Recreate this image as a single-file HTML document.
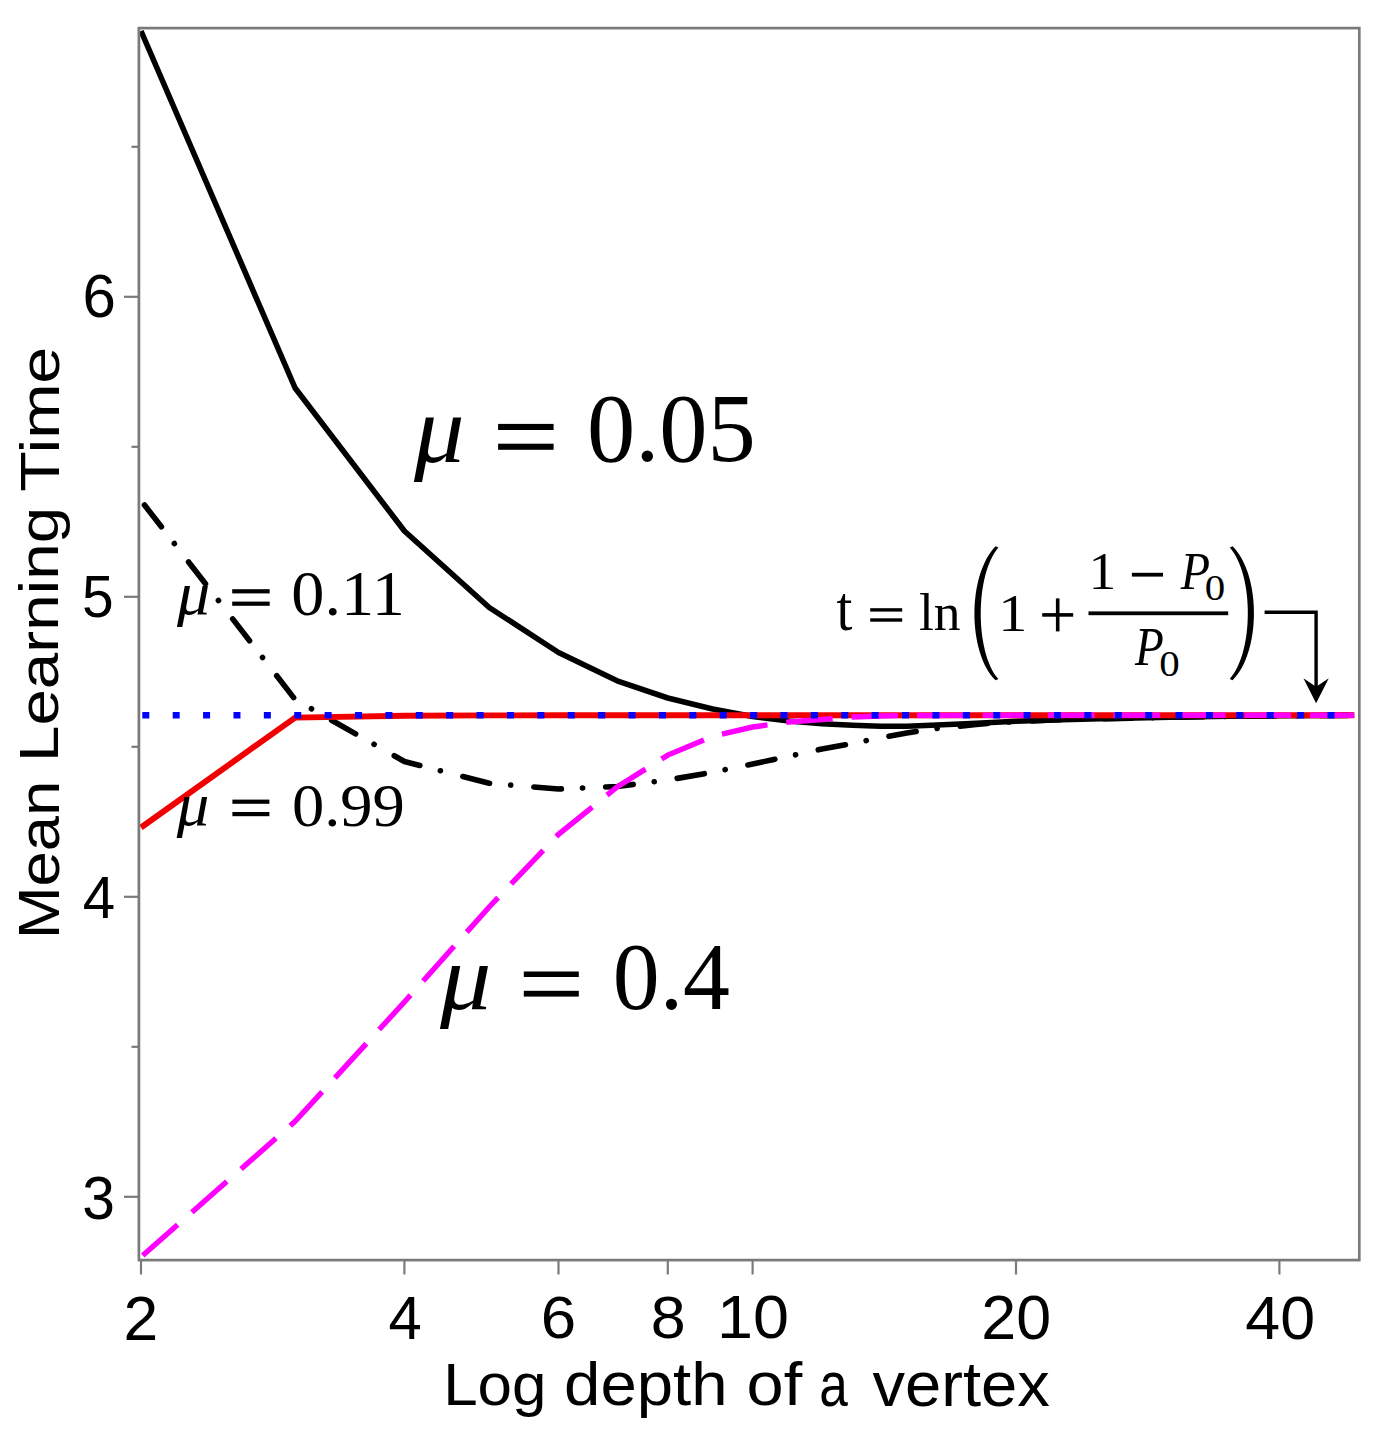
<!DOCTYPE html>
<html><head><meta charset="utf-8"><style>
html,body{margin:0;padding:0;background:#fff;width:1377px;height:1433px;overflow:hidden}
svg{display:block}
</style></head><body>
<svg width="1377" height="1433" viewBox="0 0 1377 1433">
<rect width="1377" height="1433" fill="#fff"/>
<polyline points="141.0,31.0 295.1,388.0 404.4,531.0 489.2,607.5 558.5,652.5 617.1,680.8 667.8,698.0 712.6,709.0 752.6,716.5 788.8,721.0 821.9,723.8 852.3,725.3 880.5,726.2 906.7,726.2 931.2,725.2 954.2,724.2 976.0,723.2 996.5,722.2 1016.0,721.3 1052.2,720.0 1100.8,718.8 1170.1,717.3 1228.7,716.3 1279.4,715.8 1324.2,715.5 1354.2,715.3" fill="none" stroke="#000" stroke-width="5.6" stroke-linejoin="round"/>
<polyline points="141.0,500.5 295.1,699.5 404.4,761.5 489.2,783.3 558.5,789.0 617.1,786.5 667.8,780.0 712.6,772.2 752.6,764.0 788.8,756.3 821.9,749.0 852.3,743.5 880.5,737.7 906.7,733.0 931.2,729.0 954.2,726.8 976.0,724.5 996.5,722.8 1016.0,721.5 1052.2,720.0 1100.8,718.8 1170.1,717.3 1228.7,716.3 1279.4,715.8 1324.2,715.5 1354.2,715.3" fill="none" stroke="#000" stroke-width="5.6" stroke-dasharray="27.6 21.15 0.1 23.15" stroke-dashoffset="-5.7" stroke-linecap="round" stroke-linejoin="round"/>
<polyline points="141.0,827.5 295.1,717.6 404.4,715.8 489.2,715.4 558.5,715.3 1354.2,715.3" fill="none" stroke="#f00000" stroke-width="5.9"/>
<polyline points="141.0,1257.0 295.1,1121.4 404.4,1002.0 489.2,907.0 558.5,834.3 617.1,787.0 667.8,755.1 712.6,736.3 752.6,727.0 788.8,722.0 821.9,719.5 852.3,717.0 880.5,716.0 906.7,715.5 1016.0,715.3 1354.2,715.3" fill="none" stroke="#ff00ff" stroke-width="5.4" stroke-dasharray="46.5 19" stroke-dashoffset="-2.3"/>
<line x1="142.3" y1="715.3" x2="1355" y2="715.3" stroke="#0000ff" stroke-width="6.6" stroke-dasharray="7 23.39"/>
<rect x="138.9" y="28.1" width="1220.4" height="1232" fill="none" stroke="#7a7a7a" stroke-width="2.7"/>
<line x1="124" y1="1196.8" x2="139" y2="1196.8" stroke="#7a7a7a" stroke-width="2.2"/>
<line x1="124" y1="896.8" x2="139" y2="896.8" stroke="#7a7a7a" stroke-width="2.2"/>
<line x1="124" y1="596.8" x2="139" y2="596.8" stroke="#7a7a7a" stroke-width="2.2"/>
<line x1="124" y1="296.8" x2="139" y2="296.8" stroke="#7a7a7a" stroke-width="2.2"/>
<line x1="131.5" y1="1046.8" x2="139" y2="1046.8" stroke="#7a7a7a" stroke-width="2.2"/>
<line x1="131.5" y1="746.8" x2="139" y2="746.8" stroke="#7a7a7a" stroke-width="2.2"/>
<line x1="131.5" y1="446.8" x2="139" y2="446.8" stroke="#7a7a7a" stroke-width="2.2"/>
<line x1="131.5" y1="146.8" x2="139" y2="146.8" stroke="#7a7a7a" stroke-width="2.2"/>
<line x1="141.0" y1="1260" x2="141.0" y2="1274.5" stroke="#7a7a7a" stroke-width="2.2"/>
<line x1="404.4" y1="1260" x2="404.4" y2="1274.5" stroke="#7a7a7a" stroke-width="2.2"/>
<line x1="558.5" y1="1260" x2="558.5" y2="1274.5" stroke="#7a7a7a" stroke-width="2.2"/>
<line x1="667.8" y1="1260" x2="667.8" y2="1274.5" stroke="#7a7a7a" stroke-width="2.2"/>
<line x1="752.6" y1="1260" x2="752.6" y2="1274.5" stroke="#7a7a7a" stroke-width="2.2"/>
<line x1="1016.0" y1="1260" x2="1016.0" y2="1274.5" stroke="#7a7a7a" stroke-width="2.2"/>
<line x1="1279.4" y1="1260" x2="1279.4" y2="1274.5" stroke="#7a7a7a" stroke-width="2.2"/>
<text transform="matrix(0.6000 0 0 0.6028 52.40 227.07)" x="50" y="150" font-family="Liberation Sans, sans-serif" font-size="100">6</text>
<text transform="matrix(0.5687 0 0 0.6014 53.59 527.28)" x="50" y="150" font-family="Liberation Sans, sans-serif" font-size="100">5</text>
<text transform="matrix(0.5824 0 0 0.5914 53.72 829.39)" x="50" y="150" font-family="Liberation Sans, sans-serif" font-size="100">4</text>
<text transform="matrix(0.5872 0 0 0.6141 52.99 1126.47)" x="50" y="150" font-family="Liberation Sans, sans-serif" font-size="100">3</text>
<text transform="matrix(0.6239 0 0 0.6271 92.38 1245.63)" x="50" y="150" font-family="Liberation Sans, sans-serif" font-size="100">2</text>
<text transform="matrix(0.5980 0 0 0.6143 358.70 1246.86)" x="50" y="150" font-family="Liberation Sans, sans-serif" font-size="100">4</text>
<text transform="matrix(0.6370 0 0 0.6014 508.97 1248.09)" x="50" y="150" font-family="Liberation Sans, sans-serif" font-size="100">6</text>
<text transform="matrix(0.6277 0 0 0.6014 619.31 1248.09)" x="50" y="150" font-family="Liberation Sans, sans-serif" font-size="100">8</text>
<text transform="matrix(0.6475 0 0 0.6014 684.75 1248.09)" x="50" y="150" font-family="Liberation Sans, sans-serif" font-size="100">10</text>
<text transform="matrix(0.6275 0 0 0.6254 949.89 1245.47)" x="50" y="150" font-family="Liberation Sans, sans-serif" font-size="100">20</text>
<text transform="matrix(0.6276 0 0 0.6127 1213.96 1246.99)" x="50" y="150" font-family="Liberation Sans, sans-serif" font-size="100">40</text>
<text transform="matrix(0.6197 0 0 0.5889 412.16 1316.70)" x="50" y="150" font-family="Liberation Sans, sans-serif" font-size="100">Log</text>
<text transform="matrix(0.6533 0 0 0.6106 531.42 1313.48)" x="50" y="150" font-family="Liberation Sans, sans-serif" font-size="100">depth</text>
<text transform="matrix(0.6675 0 0 0.6122 713.25 1313.36)" x="50" y="150" font-family="Liberation Sans, sans-serif" font-size="100">of</text>
<text transform="matrix(0.5135 0 0 0.6218 793.57 1312.31)" x="50" y="150" font-family="Liberation Sans, sans-serif" font-size="100">a</text>
<text transform="matrix(0.6513 0 0 0.6227 839.94 1312.17)" x="50" y="150" font-family="Liberation Sans, sans-serif" font-size="100">vertex</text>
<text transform="matrix(1.0064 0 0 0.9433 363.68 320.10)" x="50" y="150" font-family="Liberation Serif, serif" font-style="italic" font-size="100">μ</text>
<text transform="matrix(0.9653 0 0 0.9632 538.68 316.59)" x="50" y="150" font-family="Liberation Serif, serif" font-size="100">0.05</text>
<text transform="matrix(0.6596 0 0 0.6060 144.02 523.38)" x="50" y="150" font-family="Liberation Serif, serif" font-style="italic" font-size="100">μ</text>
<text transform="matrix(0.6627 0 0 0.6382 258.21 519.59)" x="50" y="150" font-family="Liberation Serif, serif" font-size="100">0.11</text>
<text transform="matrix(0.6489 0 0 0.6149 144.35 732.85)" x="50" y="150" font-family="Liberation Serif, serif" font-style="italic" font-size="100">μ</text>
<text transform="matrix(0.6455 0 0 0.6176 259.64 732.92)" x="50" y="150" font-family="Liberation Serif, serif" font-size="100">0.99</text>
<text transform="matrix(1.0234 0 0 0.9313 388.73 869.64)" x="50" y="150" font-family="Liberation Serif, serif" font-style="italic" font-size="100">μ</text>
<text transform="matrix(0.9383 0 0 0.9441 565.83 867.89)" x="50" y="150" font-family="Liberation Serif, serif" font-size="100">0.4</text>
<text transform="matrix(0.5692 0 0 0.6421 808.07 533.24)" x="50" y="150" font-family="Liberation Serif, serif" font-size="100">t</text>
<text transform="matrix(0.5351 0 0 0.5300 892.17 550.17)" x="50" y="150" font-family="Liberation Serif, serif" font-size="100">ln</text>
<text transform="matrix(0.5829 0 0 0.5379 969.11 550.02)" x="50" y="150" font-family="Liberation Serif, serif" font-size="100">1</text>
<text transform="matrix(0.5543 0 0 0.5227 1060.80 510.79)" x="50" y="150" font-family="Liberation Serif, serif" font-size="100">1</text>
<text transform="matrix(0.4797 0 0 0.5364 1156.72 508.51)" x="50" y="150" font-family="Liberation Serif, serif" font-style="italic" font-size="100">P</text>
<text transform="matrix(0.4095 0 0 0.3647 1184.39 545.76)" x="50" y="150" font-family="Liberation Serif, serif" font-size="100">0</text>
<text transform="matrix(0.4712 0 0 0.5439 1111.54 583.27)" x="50" y="150" font-family="Liberation Serif, serif" font-style="italic" font-size="100">P</text>
<text transform="matrix(0.4095 0 0 0.3559 1138.79 622.41)" x="50" y="150" font-family="Liberation Serif, serif" font-size="100">0</text>
<text transform="translate(18.7,934.2) rotate(-90) matrix(0.6343 0 0 0.5800 -36.79 -46.98)" x="50" y="150" font-family="Liberation Sans, sans-serif" font-size="100">Mean</text>
<text transform="translate(18.2,756.8) rotate(-90) matrix(0.6557 0 0 0.5489 -38.03 -42.27)" x="50" y="150" font-family="Liberation Sans, sans-serif" font-size="100">Learning</text>
<text transform="translate(17.6,490.3) rotate(-90) matrix(0.6632 0 0 0.5635 -34.49 -43.39)" x="50" y="150" font-family="Liberation Sans, sans-serif" font-size="100">Time</text>
<rect x="498.1" y="423.9" width="55.50" height="6.10" fill="#000"/>
<rect x="498.1" y="443.7" width="55.50" height="6.10" fill="#000"/>
<rect x="232.2" y="589.2" width="37.50" height="4.20" fill="#000"/>
<rect x="232.2" y="601.6" width="37.50" height="4.20" fill="#000"/>
<rect x="232.4" y="799.6" width="37.00" height="4.20" fill="#000"/>
<rect x="232.4" y="812" width="37.00" height="4.20" fill="#000"/>
<rect x="523.8" y="971.5" width="55.00" height="5.50" fill="#000"/>
<rect x="523.8" y="990.8" width="55.00" height="5.80" fill="#000"/>
<rect x="870.2" y="608.2" width="32.00" height="3.40" fill="#000"/>
<rect x="870.2" y="618.3" width="32.00" height="3.40" fill="#000"/>
<rect x="1042.2" y="613.1" width="31.00" height="3.60" fill="#000"/>
<rect x="1055.9" y="598.4" width="3.60" height="33.00" fill="#000"/>
<rect x="1131.9" y="572.8" width="31.10" height="3.80" fill="#000"/>
<rect x="1088.5" y="611.4" width="139.70" height="3.80" fill="#000"/>
<path d="M995.6,546.2 C967.5,575 967.5,652 995.6,680.3 L998.4,679 C975,652 975,575 998.4,547.5 Z" fill="#000"/>
<path d="M1232.6,546.2 C1261.2,575 1261.2,652 1232.6,680.3 L1229.8,679 C1254,652 1254,575 1229.8,547.5 Z" fill="#000"/>
<polyline points="1264.6,612.3 1316.1,612.3 1316.1,690" fill="none" stroke="#000" stroke-width="3.4"/>
<path d="M1316.1,703.3 L1303.4,678.3 L1316.1,686.8 L1328.8,678.3 Z" fill="#000"/>
</svg>
</body></html>
